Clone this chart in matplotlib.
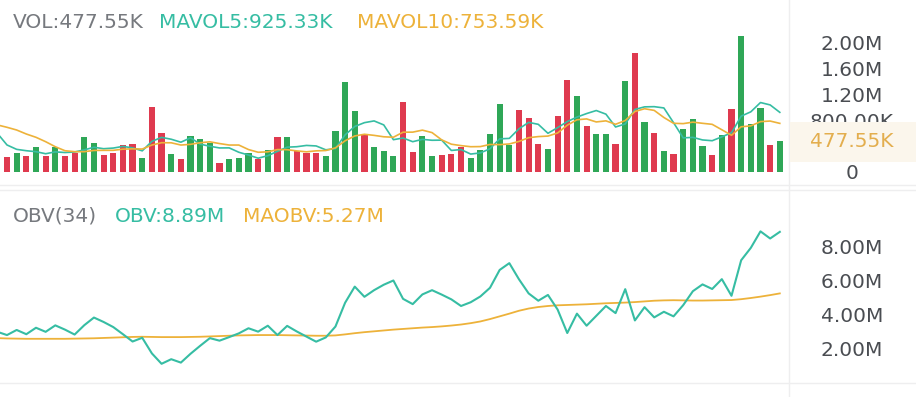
import matplotlib
matplotlib.use("Agg")
import matplotlib.pyplot as plt
from matplotlib.patches import Rectangle
from matplotlib.lines import Line2D
import numpy as np

plt.rcParams['font.family'] = ['DejaVu Sans']

# volume per candle (K), 81 candles
vol = [237, 299, 248, 383, 248, 383, 248, 290, 547, 454,
       264, 299, 419, 434, 222, 1003, 609, 274, 202, 563,
       512, 445, 144, 206, 222, 299, 197, 341, 547, 543,
       330, 299, 299, 248, 640, 1395, 950, 594, 383, 326,
       253, 1080, 310, 563, 253, 264, 279, 383, 212, 341,
       584, 1049, 419, 956, 837, 434, 352, 863, 1426, 1178,
       713, 584, 584, 429, 1415, 1840, 780, 600, 330, 274,
       662, 817, 403, 268, 574, 977, 2108, 739, 987, 414,
       477.55]
# 1 = up candle (green), 0 = down candle (red)
up = [0, 1, 0, 1, 0, 1, 0, 0, 1, 1,
      0, 0, 0, 0, 1, 0, 0, 1, 0, 1,
      1, 1, 0, 1, 1, 1, 0, 1, 0, 1,
      0, 0, 0, 1, 1, 1, 1, 0, 1, 1,
      1, 0, 0, 1, 1, 0, 0, 0, 1, 1,
      1, 1, 1, 0, 0, 0, 1, 0, 0, 1,
      0, 1, 1, 0, 1, 0, 1, 0, 1, 0,
      1, 1, 1, 0, 1, 0, 1, 1, 1, 0,
      1]

# line series start one candle before the first visible bar (index -1)
mavol5 = [600, 419, 351, 330, 315, 283, 312, 302, 310, 343,
          384, 361, 371, 397, 374, 328, 475, 537, 508, 462,
          530, 432, 399, 373, 374, 306, 263, 214, 253, 321,
          385, 392, 412, 404, 344, 363, 576, 706, 765, 792,
          730, 501, 527, 470, 506, 492, 494, 334, 348, 278,
          296, 360, 514, 521, 670, 769, 739, 600, 688, 782,
          851, 906, 953, 897, 698, 745, 970, 1010, 1013, 993,
          765, 529, 537, 497, 485, 545, 608, 866, 933, 1077,
          1040, 925]
mavol10 = [730, 693, 651, 589, 538, 470, 392, 330, 315, 315,
           334, 336, 336, 354, 359, 356, 418, 454, 453, 418,
           429, 454, 468, 441, 418, 418, 348, 306, 313, 348,
           346, 327, 313, 328, 333, 374, 484, 559, 585, 568,
           546, 539, 617, 618, 649, 611, 498, 431, 409, 392,
           394, 427, 424, 435, 474, 532, 549, 557, 605, 726,
           810, 823, 776, 793, 740, 798, 938, 981, 955, 845,
           755, 750, 773, 755, 739, 655, 569, 701, 715, 781,
           790, 754]

# OBV and its average (M)
obv = [3.01,
       2.82, 3.12, 2.87, 3.25, 3.01, 3.39, 3.14, 2.85, 3.40, 3.85,
       3.59, 3.29, 2.87, 2.44, 2.66, 1.74, 1.13, 1.40, 1.20, 1.72,
       2.19, 2.64, 2.49, 2.70, 2.92, 3.22, 3.02, 3.37, 2.82, 3.36,
       3.03, 2.73, 2.43, 2.68, 3.32, 4.72, 5.67, 5.07, 5.46, 5.78,
       6.03, 4.95, 4.64, 5.21, 5.46, 5.20, 4.92, 4.53, 4.75, 5.09,
       5.60, 6.65, 7.05, 6.10, 5.27, 4.84, 5.18, 4.32, 2.94, 4.08,
       3.37, 3.95, 4.53, 4.11, 5.52, 3.68, 4.46, 3.86, 4.19, 3.92,
       4.58, 5.40, 5.80, 5.53, 6.11, 5.13, 7.22, 7.95, 8.92, 8.50,
       8.89]
maobv = [2.64,
         2.62, 2.61, 2.60, 2.60, 2.60, 2.60, 2.60, 2.61, 2.62, 2.63,
         2.65, 2.67, 2.69, 2.71, 2.72, 2.71, 2.70, 2.70, 2.70, 2.71,
         2.72, 2.74, 2.76, 2.78, 2.80, 2.81, 2.82, 2.82, 2.82, 2.81,
         2.80, 2.79, 2.78, 2.78, 2.80, 2.86, 2.93, 2.99, 3.04, 3.09,
         3.14, 3.18, 3.22, 3.26, 3.29, 3.33, 3.38, 3.44, 3.52, 3.62,
         3.76, 3.92, 4.08, 4.25, 4.38, 4.47, 4.53, 4.57, 4.59, 4.61,
         4.63, 4.66, 4.69, 4.71, 4.73, 4.76, 4.80, 4.84, 4.86, 4.87,
         4.86, 4.85, 4.85, 4.86, 4.87, 4.88, 4.93, 5.00, 5.08, 5.17,
         5.27]

# 400K tick sits under the current-value marker, so it isn't shown
vol_ticks = [0, 800, 1200, 1600, 2000]
vol_tick_labels = ["0", "800.00K", "1.20M", "1.60M", "2.00M"]
obv_ticks = [2, 4, 6, 8]
obv_tick_labels = ["2.00M", "4.00M", "6.00M", "8.00M"]

vol_header = ["VOL:477.55K", "MAVOL5:925.33K", "MAVOL10:753.59K"]
obv_header = ["OBV(34)", "OBV:8.89M", "MAOBV:5.27M"]
last_vol_label = "477.55K"

# colours
GREEN = "#2FA757"
RED = "#DF3A4F"
TEAL = "#36BDA3"
GOLD = "#EDB23A"
GREY = "#76797E"
TICK = "#4A4D52"
LINE = "#EEEEEF"
FS = 14.5

W, H = 916, 397


def fx(px):
    return px / W


def fy(py):
    return 1 - py / H


fig = plt.figure(figsize=(W / 100, H / 100), dpi=100)
fig.patch.set_facecolor("white")

x = np.arange(len(vol))
xl = np.arange(-1, len(vol))
xlim = (-7 / 9.66, (788 - 7) / 9.66)

# --- volume panel ---
ax1 = fig.add_axes([0, fy(185), fx(788), 185 / H])
ax1.bar(x, vol, width=0.64, color=[GREEN if u else RED for u in up], zorder=2)
ax1.plot(xl, mavol5, color=TEAL, lw=1.2, zorder=3)
ax1.plot(xl, mavol10, color=GOLD, lw=1.2, zorder=3)
ax1.set_xlim(*xlim)
ax1.set_ylim(-13 / 64.5 * 1000, 172 / 64.5 * 1000)

# --- OBV panel ---
ax2 = fig.add_axes([0, fy(383), fx(788), (383 - 191) / H])
ax2.plot(xl, maobv, color=GOLD, lw=1.3, zorder=2)
ax2.plot(xl, obv, color=TEAL, lw=1.5, zorder=3)
ax2.set_xlim(*xlim)
ax2.set_ylim(0, (383 - 191) / 17)

for ax, ticks, labels in [(ax1, vol_ticks, vol_tick_labels),
                          (ax2, obv_ticks, obv_tick_labels)]:
    ax.set_facecolor("none")
    for s in ax.spines.values():
        s.set_visible(False)
    ax.set_xticks([])
    ax.yaxis.tick_right()
    ax.set_yticks(ticks, labels)
    ax.tick_params(axis="y", length=0, pad=46, labelsize=FS, labelcolor=TICK)
    for t in ax.get_yticklabels():
        t.set_ha("center")

# separators
for py in (185, 190, 383):
    fig.add_artist(Line2D([0, 1], [fy(py), fy(py)], transform=fig.transFigure,
                          color=LINE, lw=1, zorder=1))
fig.add_artist(Line2D([fx(789), fx(789)], [0, 1], transform=fig.transFigure,
                      color=LINE, lw=1, zorder=1))

# current volume marker on the axis
fig.add_artist(Rectangle((fx(790), fy(162)), fx(916 - 790), 40 / H,
                         transform=fig.transFigure, facecolor="#FBF6EC",
                         edgecolor="none", zorder=5))
fig.text(fx(852), fy(141.5), last_vol_label, ha="center", va="center",
         fontsize=FS, color="#E3AE4E", zorder=6)

# headers
for txt, px, col in zip(vol_header, [13, 159, 357], [GREY, TEAL, GOLD]):
    fig.text(fx(px), fy(22.5), txt, ha="left", va="center", fontsize=FS, color=col)
for txt, px, col in zip(obv_header, [13, 115, 243], [GREY, TEAL, GOLD]):
    fig.text(fx(px), fy(216), txt, ha="left", va="center", fontsize=FS, color=col)

fig.savefig("out.png", dpi=100)
